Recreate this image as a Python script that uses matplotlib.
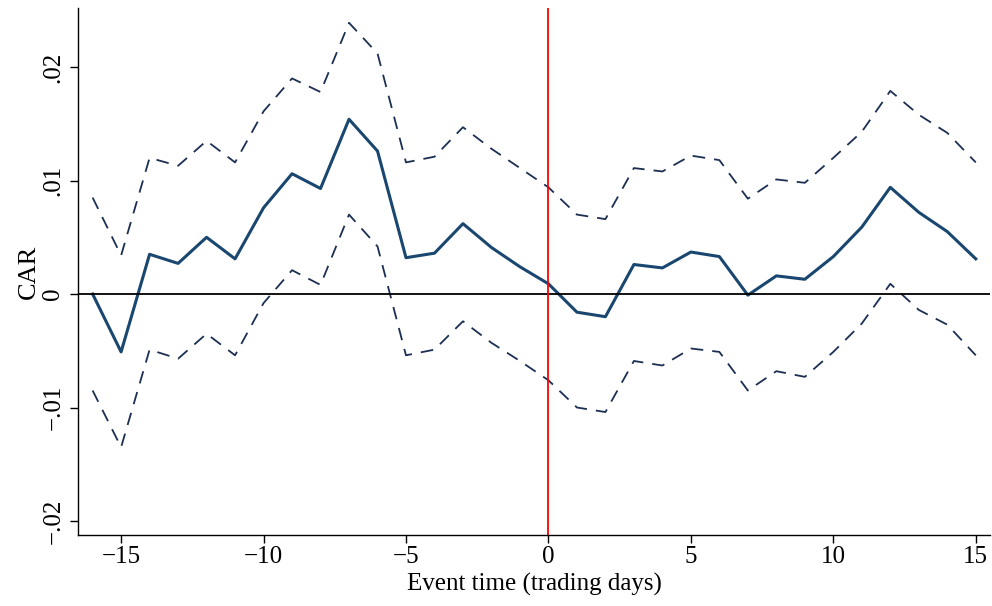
import numpy as np
import matplotlib
matplotlib.use("Agg")
import matplotlib.pyplot as plt
from matplotlib.ticker import FixedLocator

plt.rcParams['font.family'] = ['Liberation Serif', 'DejaVu Serif']

# event window and estimates
days = list(range(-16, 16))
car = [0.0000, -0.0051, 0.0035, 0.0027, 0.0050, 0.0031, 0.0076, 0.0106,
       0.0093, 0.0154, 0.0126, 0.0032, 0.0036, 0.0062, 0.0041, 0.0024,
       0.0009, -0.0016, -0.0020, 0.0026, 0.0023, 0.0037, 0.0033, -0.0001,
       0.0016, 0.0013, 0.0033, 0.0059, 0.0094, 0.0072, 0.0055, 0.0031]
upper = [0.0085, 0.0034, 0.0120, 0.0113, 0.0135, 0.0116, 0.0161, 0.0190,
         0.0178, 0.0239, 0.0212, 0.0116, 0.0121, 0.0147, 0.0128, 0.0111,
         0.0094, 0.0070, 0.0066, 0.0111, 0.0108, 0.0122, 0.0118, 0.0084,
         0.0101, 0.0098, 0.0120, 0.0143, 0.0179, 0.0158, 0.0142, 0.0116]
lower = [-0.0085, -0.0135, -0.0049, -0.0057, -0.0035, -0.0054, -0.0008, 0.0021,
         0.0008, 0.0070, 0.0042, -0.0054, -0.0049, -0.0024, -0.0043, -0.0059,
         -0.0076, -0.0100, -0.0104, -0.0059, -0.0063, -0.0048, -0.0051, -0.0085,
         -0.0068, -0.0073, -0.0051, -0.0026, 0.0009, -0.0014, -0.0027, -0.0054]

xticks = [-15, -10, -5, 0, 5, 10, 15]
xtick_labels = ['\u221215', '\u221210', '\u22125', '0', '5', '10', '15']
yticks = [-0.02, -0.01, 0, 0.01, 0.02]
ytick_labels = ['\u2212.02', '\u2212.01', '0', '.01', '.02']

fig = plt.figure(figsize=(9.92, 6.06), dpi=100)
ax = fig.add_axes([0.079, 0.1167, 0.919, 0.870])

navy = '#1a476f'
ax.plot(days, upper, color='#1c2f52', lw=1.3, dashes=(7, 5))
ax.plot(days, lower, color='#1c2f52', lw=1.3, dashes=(7, 5))
ax.plot(days, car, color=navy, lw=2.2)
ax.axhline(0, color='black', lw=1.3)
ax.axvline(0, color='red', lw=1.3)

ax.set_xlim(-16.5, 15.5)
ax.set_ylim(-0.02126, 0.0252)

ax.xaxis.set_major_locator(FixedLocator(xticks))
ax.set_xticklabels(xtick_labels)
ax.yaxis.set_major_locator(FixedLocator(yticks))
ax.set_yticklabels(ytick_labels, rotation=90, va='center')

for s in ['top', 'right']:
    ax.spines[s].set_visible(False)
for s in ['left', 'bottom']:
    ax.spines[s].set_linewidth(1.0)
ax.tick_params(direction='out', length=6, width=1.0, labelsize=18)
ax.tick_params(axis='x', pad=2)
ax.tick_params(axis='y', pad=4)

ax.set_xlabel('Event time (trading days)', fontsize=18, labelpad=3)
ax.set_ylabel('CAR', fontsize=19, labelpad=2)

fig.savefig('out.png', dpi=100)
